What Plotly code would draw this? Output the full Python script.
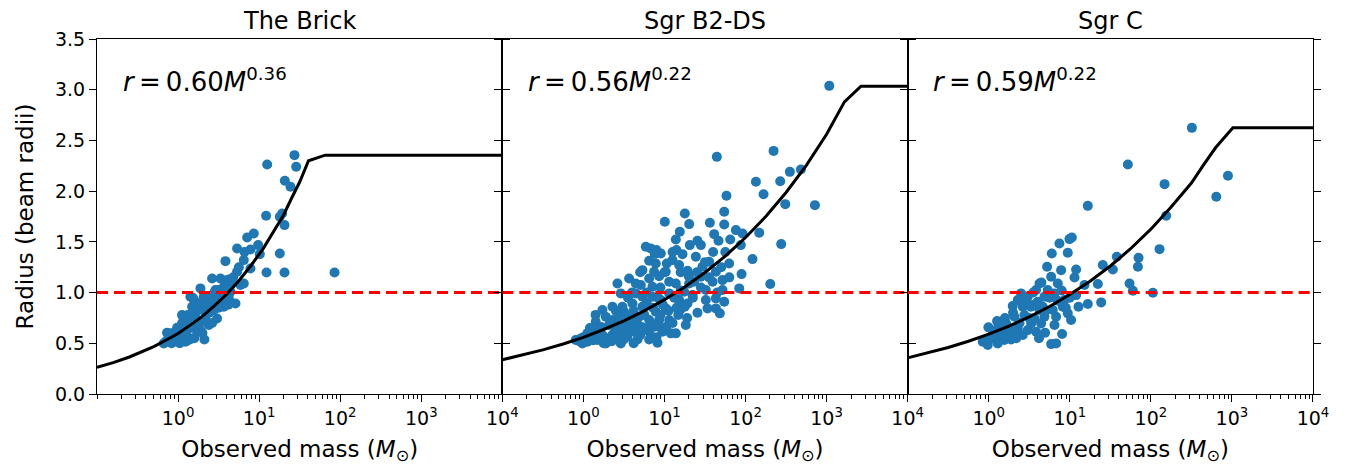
import plotly.graph_objects as go
from plotly.subplots import make_subplots

titles = ['The Brick', 'Sgr B2-DS', 'Sgr C']
fit_labels = ['<i>r</i>\u2009=\u20090.60<i>M</i><sup>0.36</sup>',
              '<i>r</i>\u2009=\u20090.56<i>M</i><sup>0.22</sup>',
              '<i>r</i>\u2009=\u20090.59<i>M</i><sup>0.22</sup>']

# scatter values, log10 of mass and radius in beam radii
brick_logm = [1.436, 1.099, 1.457, 1.317, 1.387, 1.086, 1.284, 1.255, 1.313, 0.934,
              0.852, 0.988, 0.728, 0.893, 1.008, 1.255, 0.811, 0.584, 0.893, 1.091,
              1.313, 1.93, 0.728, 0.42, 0.523, 0.626, 0.77, 0.276, 0.646, 0.461,
              0.708, 0.193, 0.564, 0.399, 0.173, 0.317, 0.481, 0.049, 0.379, 0.235,
              0.111, -0.012, -0.136, 0.235, 0.132, 0.325, -0.177, -0.053, 0.029, 0.091,
              0.193, 0.44, 0.523, 0.337, 0.276, -0.095, 0.008, 0.07, 0.605, 0.317,
              0.235, 0.152, 0.502, 0.811, 0.667, 0.152, -0.033, 0.173, 0.358, 0.461,
              0.42, 0.564, 0.091, -0.115, 0.626,
              -0.15, -0.1, -0.05, 0.0, 0.02, 0.05, 0.1, 0.12, 0.15, 0.2,
              0.22, 0.25, 0.28, 0.3, 0.32, 0.35, 0.38, 0.42, 0.45, 0.5,
              0.55, 0.58, 0.62, 0.68, 0.75, 0.82, -0.08, 0.18]
brick_r = [2.355, 2.263, 2.24, 2.102, 2.043, 1.757, 1.78, 1.747, 1.665, 1.583,
           1.543, 1.468, 1.435, 1.425, 1.379, 1.386, 1.32, 1.31, 1.238, 1.198,
           1.198, 1.198, 1.205, 1.139, 1.139, 1.13, 1.074, 1.041, 1.008, 1.025,
           0.893, 0.933, 0.86, 0.91, 0.86, 0.828, 0.745, 0.778, 0.68, 0.729,
           0.713, 0.653, 0.604, 0.614, 0.532, 0.538, 0.499, 0.515, 0.532, 0.614,
           0.663, 0.828, 0.926, 0.762, 0.63, 0.565, 0.581, 0.696, 0.959, 0.959,
           0.86, 0.762, 1.025, 1.09, 1.09, 0.959, 0.614, 0.548, 0.86, 0.893,
           0.959, 1.058, 0.515, 0.515, 0.943,
           0.52, 0.6, 0.55, 0.62, 0.5, 0.7, 0.58, 0.78, 0.65, 0.55,
           0.8, 0.7, 0.9, 0.6, 0.72, 0.95, 0.8, 0.7, 1.0, 0.85,
           0.95, 1.12, 0.88, 1.15, 1.25, 1.4, 0.5, 0.95]

b2ds_logm = [3.033, 1.646, 2.346, 2.547, 2.683, 2.128, 2.428, 2.222, 1.765, 2.49,
             2.856, 1.251, 1.737, 1.004, 1.305, 1.56, 1.737, 1.189, 1.881, 1.963,
             2.169, 1.613, 1.14, 1.407, 1.667, 1.313, 1.449, 1.811, 1.942, 2.44,
             0.77, 0.831, 0.901, 0.955, 1.148, 1.222, 1.387, 0.811, 1.029, 1.551,
             1.798, 2.086, 1.181, 1.469, 1.634, 1.284, 0.872, 1.951, 0.564, 0.811,
             0.934, 1.058, 0.42, 0.708, 1.366, 1.593, 1.716, 1.449, 1.716, 1.922,
             2.305, 0.461, 0.646, 0.852, 1.058, 1.346, 1.51, 1.181, 1.51, 1.634,
             1.737, 1.284, 1.634, 1.407, 1.193, 1.531, 1.683, 0.235, 0.358, 0.481,
             0.605, 0.728, 0.893, 1.016, 0.276, 0.44, 0.564, 0.687, 0.811, 0.934,
             1.058, 1.263, 1.14, 0.152, 0.091, 0.193, 0.317, 0.399, 0.523, 0.626,
             0.749, 0.872, 0.975, 1.078, -0.095, -0.012, 0.049, 0.173, 0.276, 0.42,
             0.543, 0.667, 0.811, 0.914, 0.235, 0.358, 0.481, 0.111, -0.033, 0.605,
             0.502, 0.728, 0.955, 0.852, 1.14, 1.243, 1.305, 1.016, 1.099, 0.893,
             0.728, 0.646, 0.358, 0.934, 0.811, 0.461,
             0.0, 0.05, 0.12, 0.18, 0.22, 0.3, 0.33, 0.38, 0.45, 0.5,
             0.52, 0.58, 0.62, 0.66, 0.7, 0.75, 0.78, 0.83, 0.86, 0.9,
             0.95, 0.98, 1.02, 1.05, 1.1, 1.12, 1.17, 1.2, 1.25, 1.3,
             1.35, 1.4, 1.45, 1.5, 1.55, 1.6, 1.65, 1.7, 1.75, 1.8,
             0.6, 0.7, 0.78, 0.95, 1.0, 1.1, 1.2, 0.88, 0.15, 0.25,
             0.4, 0.55, 0.35, -0.05, 0.08, 0.62, 0.72, 0.92, 1.15, 1.28]
b2ds_r = [3.038, 2.338, 2.397, 2.19, 2.213, 2.092, 2.098, 1.97, 1.954, 1.872,
          1.862, 1.78, 1.796, 1.698, 1.675, 1.688, 1.671, 1.599, 1.616, 1.583,
          1.589, 1.576, 1.524, 1.511, 1.511, 1.468, 1.468, 1.524, 1.468, 1.478,
          1.451, 1.435, 1.419, 1.386, 1.419, 1.379, 1.353, 1.313, 1.287, 1.304,
          1.287, 1.33, 1.271, 1.254, 1.205, 1.215, 1.205, 1.182, 1.139, 1.139,
          1.162, 1.106, 1.09, 1.074, 1.106, 1.106, 1.123, 1.156, 1.025, 1.041,
          1.084, 0.992, 0.992, 0.959, 0.992, 0.975, 1.025, 0.926, 0.926, 0.943,
          0.91, 0.893, 0.844, 0.801, 0.828, 0.844, 0.795, 0.828, 0.86, 0.86,
          0.893, 0.86, 0.811, 0.844, 0.762, 0.762, 0.745, 0.762, 0.729, 0.729,
          0.729, 0.68, 0.598, 0.713, 0.614, 0.647, 0.68, 0.63, 0.663, 0.614,
          0.647, 0.663, 0.614, 0.598, 0.532, 0.499, 0.515, 0.532, 0.499, 0.548,
          0.565, 0.538, 0.538, 0.506, 0.581, 0.581, 0.614, 0.565, 0.548, 0.729,
          0.811, 0.959, 0.926, 1.058, 1.09, 1.008, 1.09, 1.205, 1.32, 1.287,
          1.221, 1.09, 0.729, 0.663, 0.614, 0.499,
          0.56, 0.6, 0.53, 0.6, 0.66, 0.55, 0.72, 0.6, 0.7, 0.54,
          0.78, 0.65, 0.82, 0.7, 0.58, 0.78, 0.9, 0.7, 0.85, 0.56,
          0.78, 0.88, 0.66, 0.82, 0.7, 0.95, 0.78, 1.02, 0.86, 1.16,
          0.95, 1.2, 1.05, 1.3, 1.15, 1.4, 1.0, 1.25, 1.4, 1.15,
          1.0, 1.2, 1.0, 1.05, 1.2, 1.4, 1.2, 1.38, 0.78, 0.5,
          0.82, 0.95, 0.52, 0.52, 0.65, 0.5, 0.66, 0.95, 0.85, 0.75]

sgrc_logm = [2.506, 1.716, 2.169, 2.951, 2.807, 1.222, 2.189, 0.872, 0.996, 1.025,
             0.778, 0.975, 2.107, 1.58, 1.848, 0.72, 1.407, 1.84, 0.893, 1.078,
             1.531, 0.77, 1.058, 0.626, 1.181, 1.346, 1.737, 1.778, 2.025, 0.399,
             0.481, 0.584, 0.687, 0.811, 0.934, 1.078, 1.107, 1.222, 1.387, 0.296,
             0.42, 0.543, 0.667, 0.79, 0.914, 0.317, 0.44, 0.564, 0.687, 0.831,
             0.975, 1.016, 0.103, 0.214, 0.358, 0.481, 0.584, 0.695, 0.811, 0.905,
             -0.004, 0.152, 0.42, -0.012, 0.091, 0.193, 0.276, -0.074, -0.012, 0.111,
             0.77, 0.831, 0.235, 0.049, 0.337, 0.523, 0.646, 0.626, 0.461, 0.358,
             0.728, 0.852, 0.605,
             0.0, 0.05, 0.15, 0.2, 0.25, 0.3, 0.38, 0.45, 0.5, 0.55,
             0.6, 0.65, 0.7, 0.75, 0.85, 0.9, 0.95, 1.0, 0.12, 0.34,
             0.62, 0.52]
sgrc_r = [2.624, 2.263, 2.069, 2.151, 1.944, 1.855, 1.757, 1.484, 1.527, 1.543,
          1.386, 1.392, 1.428, 1.353, 1.343, 1.254, 1.271, 1.254, 1.221, 1.228,
          1.228, 1.156, 1.149, 1.09, 1.074, 1.084, 1.09, 1.018, 0.998, 0.992,
          0.959, 1.025, 0.959, 0.992, 0.926, 0.975, 0.86, 0.887, 0.903, 0.867,
          0.86, 0.877, 0.86, 0.828, 0.86, 0.762, 0.778, 0.745, 0.762, 0.762,
          0.795, 0.729, 0.719, 0.696, 0.647, 0.63, 0.614, 0.604, 0.68, 0.591,
          0.657, 0.614, 0.581, 0.532, 0.532, 0.532, 0.538, 0.515, 0.483, 0.499,
          0.492, 0.499, 0.581, 0.581, 0.614, 0.696, 0.696, 0.828, 0.893, 0.926,
          1.025, 1.09, 0.91,
          0.55, 0.62, 0.55, 0.75, 0.65, 0.8, 0.7, 0.95, 0.75, 1.0,
          0.9, 1.1, 0.82, 0.95, 0.92, 1.02, 0.85, 0.95, 0.68, 0.55,
          0.55, 0.86]

# fitted curves (log10 mass, radius)
brick_curve_logm = [-1.0, -0.8, -0.6, -0.45, -0.3, -0.15, 0.0, 0.15, 0.3, 0.45, 0.6,
                    0.75, 0.9, 1.05, 1.2, 1.3, 1.4, 1.5, 1.609, 1.815, 4.0]
brick_curve_r = [0.262, 0.309, 0.365, 0.413, 0.468, 0.53, 0.597, 0.679, 0.765, 0.871, 0.983,
                 1.117, 1.267, 1.433, 1.63, 1.763, 1.93, 2.09, 2.30, 2.355, 2.355]
b2ds_curve_logm = [-1.0, -0.75, -0.5, -0.25, 0.0, 0.25, 0.5, 0.75, 1.0, 1.25, 1.5,
                   1.75, 2.0, 2.25, 2.5, 2.75, 3.0, 3.22, 3.424, 4.0]
b2ds_curve_r = [0.338, 0.383, 0.435, 0.493, 0.558, 0.636, 0.721, 0.819, 0.93, 1.055, 1.198,
                1.359, 1.543, 1.75, 1.987, 2.255, 2.56, 2.88, 3.034, 3.034]
sgrc_curve_logm = [-1.0, -0.75, -0.5, -0.25, 0.0, 0.25, 0.5, 0.75, 1.0, 1.25, 1.5,
                   1.75, 2.0, 2.25, 2.5, 2.65, 2.8, 3.012, 4.0]
sgrc_curve_r = [0.356, 0.404, 0.459, 0.52, 0.59, 0.67, 0.76, 0.863, 0.98, 1.112, 1.262,
                1.432, 1.625, 1.844, 2.08, 2.259, 2.43, 2.624, 2.624]

beam_radius = 1.0
mass_range = [0.1, 1e4]
tick_masses = [1, 10, 100, 1000, 10000]
tick_text = ['10<sup>0</sup>', '10<sup>1</sup>', '10<sup>2</sup>', '10<sup>3</sup>', '10<sup>4</sup>']
r_ticks = [0, 0.5, 1, 1.5, 2, 2.5, 3, 3.5]

points = [(brick_logm, brick_r), (b2ds_logm, b2ds_r), (sgrc_logm, sgrc_r)]
curves = [(brick_curve_logm, brick_curve_r), (b2ds_curve_logm, b2ds_curve_r),
          (sgrc_curve_logm, sgrc_curve_r)]

fig = make_subplots(rows=1, cols=3, shared_yaxes=True, horizontal_spacing=0)
font = 'DejaVu Sans'

for i in range(3):
    col = i + 1
    lm, rr = points[i]
    fig.add_trace(go.Scatter(
        x=[10 ** v for v in lm], y=rr, mode='markers',
        marker=dict(color='#1f77b4', size=10, line=dict(width=0)),
        showlegend=False), row=1, col=col)
    clm, cr = curves[i]
    fig.add_trace(go.Scatter(
        x=[10 ** v for v in clm], y=cr, mode='lines',
        line=dict(color='black', width=3), showlegend=False), row=1, col=col)
    fig.add_trace(go.Scatter(
        x=mass_range, y=[beam_radius, beam_radius], mode='lines',
        line=dict(color='red', width=3, dash='11px,6px'), showlegend=False), row=1, col=col)

    fig.update_xaxes(
        type='log', range=[-1, 4], tickvals=tick_masses, ticktext=tick_text,
        ticks='outside', ticklen=7, tickwidth=1.2, tickcolor='black',
        minor=dict(ticks='outside', ticklen=4, tickwidth=1, tickcolor='black', dtick='D1'),
        showline=True, linecolor='black', linewidth=1.2, mirror=True,
        showgrid=False, zeroline=False, automargin=False,
        tickfont=dict(family=font, size=19, color='black'),
        title=dict(text='Observed mass (<i>M</i><sub>⊙</sub>)', standoff=12,
                   font=dict(family=font, size=23, color='black')),
        row=1, col=col)
    fig.update_yaxes(
        range=[0, 3.5], tickvals=r_ticks, ticks='outside', ticklen=7, tickwidth=1.2,
        tickcolor='black', showline=True, linecolor='black', linewidth=1.2, mirror='ticks',
        showgrid=False, zeroline=False, showticklabels=(i == 0), automargin=False,
        tickformat='.1f', tickfont=dict(family=font, size=19, color='black'),
        row=1, col=col)

    xref = 'x domain' if i == 0 else 'x%d domain' % col
    yref = 'y domain' if i == 0 else 'y%d domain' % col
    fig.add_annotation(text=fit_labels[i], xref=xref, yref=yref, x=0.058, y=0.885,
                       xanchor='left', yanchor='middle', showarrow=False,
                       font=dict(family=font, size=26, color='black'))
    fig.add_annotation(text=titles[i], xref=xref, yref=yref, x=0.5, y=1.0, yshift=18,
                       xanchor='center', yanchor='middle', showarrow=False, borderpad=0,
                       font=dict(family=font, size=24, color='black'))

fig.update_yaxes(title=dict(text='Radius (beam radii)', standoff=14,
                            font=dict(family=font, size=23, color='black')), row=1, col=1)

# the page body adds an 8px offset, so the figure is 8px smaller than the window
fig.update_layout(
    width=1340, height=459,
    margin=dict(l=89, r=35, t=31, b=73),
    plot_bgcolor='white', paper_bgcolor='white',
    font=dict(family=font),
)
fig.layout.xaxis.domain = [0, 1 / 3]
fig.layout.xaxis2.domain = [1 / 3, 2 / 3]
fig.layout.xaxis3.domain = [2 / 3, 1]

fig.write_html('out.html')
